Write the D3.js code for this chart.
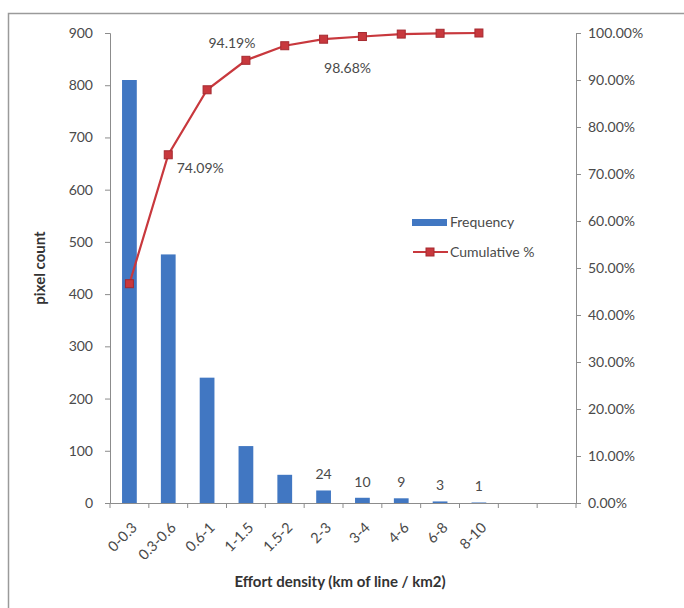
<!DOCTYPE html>
<html><head><meta charset="utf-8">
<script src="https://cdn.jsdelivr.net/npm/d3@7"></script>
<style>body{margin:0;background:#fff}svg{display:block}text{font-family:Lato,"Open Sans",sans-serif}</style>
</head><body>
<script>
const categories = ["0-0.3","0.3-0.6","0.6-1","1-1.5","1.5-2","2-3","3-4","4-6","6-8","8-10","",""];
const frequency = [810,476,240,109,54,24,10,9,3,1];
const cumulative = [46.66,74.09,87.92,94.19,97.29,98.68,99.25,99.77,99.94,100.00];
const leftTicks = [0,100,200,300,400,500,600,700,800,900];
const rightTicks = [0,10,20,30,40,50,60,70,80,90,100];
const barLabels = [null,null,null,null,null,"24","10","9","3","1"];
const lineLabels = {1:"74.09%",3:"94.19%",5:"98.68%"};

const W=684,H=608;
const svg=d3.select("body").append("svg").attr("width",W).attr("height",H);
svg.append("rect").attr("x",8.5).attr("y",13.5).attr("width",720).attr("height",720)
  .attr("fill","#fff").attr("stroke","#9a9a9a").attr("stroke-width",1.5);

const L=110,R=576,T=33,B=503;
const x=d3.scaleBand().domain(categories.map((c,i)=>i)).range([L,R]).paddingInner(0.62).paddingOuter(0.31);
const xb=d3.scaleBand().domain(categories.map((c,i)=>i)).range([L,R]);
const y=d3.scaleLinear().domain([0,900]).range([B,T]);
const y2=d3.scaleLinear().domain([0,100]).range([B,T]);
const axisCol="#8c8c8c", txtCol="#4a4a4a";

const gL=svg.append("g").attr("transform",`translate(${L},0)`)
  .call(d3.axisLeft(y).tickValues(leftTicks).tickSize(5).tickPadding(12).tickFormat(d3.format("d")));
const gR=svg.append("g").attr("transform",`translate(${R},0)`)
  .call(d3.axisRight(y2).tickValues(rightTicks).tickSize(5).tickPadding(7).tickFormat(d=>d.toFixed(2)+"%"));
const gX=svg.append("g").attr("transform",`translate(0,${B})`)
  .call(d3.axisBottom(xb).tickValues([]).tickSizeOuter(0));
gX.selectAll("line.b").data(d3.range(categories.length+1)).join("line").attr("class","b")
  .attr("x1",i=>L+i*xb.step()).attr("x2",i=>L+i*xb.step()).attr("y1",0).attr("y2",5);
[gL,gR,gX].forEach(g=>{
  g.selectAll("path,line").attr("stroke",axisCol).attr("stroke-width",1);
  g.selectAll("text").attr("fill",txtCol).attr("font-size",14);
});

// bars
svg.append("g").selectAll("rect").data(frequency).join("rect")
  .attr("x",(d,i)=>x(i)).attr("width",x.bandwidth())
  .attr("y",d=>y(d)).attr("height",d=>B-y(d)).attr("fill","#4177c2");

// bar labels
const barLabelData = frequency.map((v,i)=>({i,v,t:barLabels[i]})).filter(d=>d.t!==null);
svg.append("g").selectAll("text").data(barLabelData).join("text")
  .attr("x",d=>xb(d.i)+xb.bandwidth()/2).attr("y",d=>y(d.v)-16)
  .attr("dy","0.35em").attr("text-anchor","middle").attr("font-size",14).attr("fill",txtCol)
  .text(d=>d.t);

// x tick labels
svg.append("g").selectAll("text").data(categories).join("text")
  .attr("transform",(d,i)=>`translate(${xb(i)+xb.bandwidth()/2+5},${B+22}) rotate(-45)`)
  .attr("text-anchor","end").attr("dy","0.35em").attr("font-size",14.5).attr("fill",txtCol)
  .text(d=>d);

// line
const cx=i=>xb(i)+xb.bandwidth()/2;
svg.append("path").datum(cumulative)
  .attr("d",d3.line().x((d,i)=>cx(i)).y(d=>y2(d)))
  .attr("fill","none").attr("stroke","#c8383d").attr("stroke-width",2.2);
svg.append("g").selectAll("rect").data(cumulative).join("rect")
  .attr("x",(d,i)=>cx(i)-4).attr("y",d=>y2(d)-4).attr("width",8).attr("height",8)
  .attr("fill","#c8383d").attr("stroke","#a52a30").attr("stroke-width",1);

const offs={1:[32,13],3:[-14,-17],5:[24,29]};
Object.keys(lineLabels).forEach(k=>{
  const i=+k;
  svg.append("text").attr("x",cx(i)+offs[i][0]).attr("y",y2(cumulative[i])+offs[i][1])
    .attr("dy","0.35em").attr("text-anchor","middle").attr("font-size",14).attr("fill",txtCol)
    .text(lineLabels[i]);
});

// legend
const lg=svg.append("g");
lg.append("rect").attr("x",412).attr("y",219).attr("width",35).attr("height",7).attr("fill","#4177c2");
lg.append("text").attr("x",450).attr("y",222).attr("dy","0.35em").attr("font-size",14).attr("fill",txtCol).text("Frequency");
lg.append("line").attr("x1",413).attr("x2",448).attr("y1",252).attr("y2",252).attr("stroke","#c8383d").attr("stroke-width",2.2);
lg.append("rect").attr("x",426).attr("y",248).attr("width",8).attr("height",8).attr("fill","#c8383d").attr("stroke","#a52a30");
lg.append("text").attr("x",450).attr("y",252).attr("dy","0.35em").attr("font-size",14).attr("fill",txtCol).text("Cumulative %");

// axis titles
svg.append("text").attr("transform","translate(40,268) rotate(-90)").attr("text-anchor","middle")
  .attr("dy","0.35em").attr("font-size",15).attr("font-weight","bold").attr("fill","#333").text("pixel count");
svg.append("text").attr("x",340).attr("y",587).attr("text-anchor","middle")
  .attr("font-size",15).attr("font-weight","bold").attr("fill","#333").text("Effort density (km of line / km2)");
</script>
</body></html>
